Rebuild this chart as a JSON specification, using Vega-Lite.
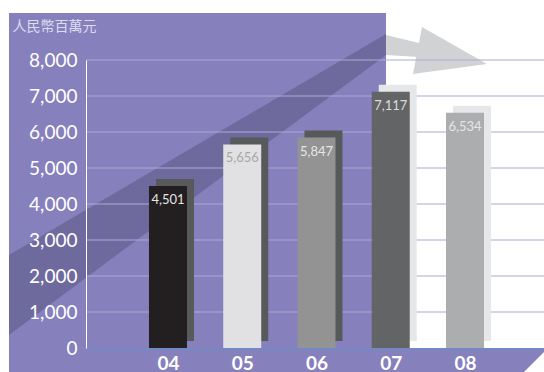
{
  "$schema": "https://vega.github.io/schema/vega-lite/v6.json",
  "width": 458,
  "height": 288,
  "autosize": {"type": "none"},
  "padding": {"left": 86, "top": 60, "right": 0, "bottom": 24},
  "background": "white",
  "config": {
    "view": {"stroke": null},
    "axisX": {"grid": false, "ticks": false, "labelPadding": 6, "labelFont": "Lato", "labelFontSize": 19, "labelFontWeight": "bold", "labelColor": "#ffffff", "domainColor": "#5f93cc", "domainWidth": 1},
    "axisY": {"grid": false, "ticks": false, "tickSize": 0, "labelPadding": 9, "labelFont": "Lato", "labelFontSize": 19, "labelColor": "#ffffff", "domainColor": "#ffffff", "domainWidth": 1, "titleAngle": 0, "titleX": -74, "titleY": -34, "titleAlign": "left", "titleBaseline": "middle", "titleFont": "Noto Sans CJK TC", "titleFontSize": 14, "titleFontWeight": "normal", "titleColor": "#dedbef"}
  },
  "datasets": {
    "sales": [
      {"yr": 4, "value": 4501},
      {"yr": 5, "value": 5656},
      {"yr": 6, "value": 5847},
      {"yr": 7, "value": 7117},
      {"yr": 8, "value": 6534}
    ],
    "panel": [{"x": 1.859, "x2": 6.936, "top": 9306, "bottom": -667}],
    "strip": [
      {"x": 6.936, "top": 0, "bottom": -667},
      {"x": 8.795, "top": 0, "bottom": -667},
      {"x": 9.064, "top": 0, "bottom": -111}
    ],
    "band": [
      {"x": 1.859, "top": 2583, "bottom": 361},
      {"x": 6.936, "top": 8722, "bottom": 8139}
    ],
    "shaft": [
      {"x": 6.936, "top": 8694, "bottom": 8139},
      {"x": 7.38, "top": 8472, "bottom": 8083}
    ],
    "head": [
      {"x": 7.3, "top": 7611, "bottom": 7611},
      {"x": 7.421, "top": 8917, "bottom": 7644},
      {"x": 8.296, "top": 7889, "bottom": 7889}
    ],
    "grid": [{"v": 1000}, {"v": 2000}, {"v": 3000}, {"v": 4000}, {"v": 5000}, {"v": 6000}, {"v": 7000}, {"v": 8000}]
  },
  "resolve": {"scale": {"color": "independent"}},
  "layer": [
    {
      "data": {"name": "panel"},
      "mark": {"type": "rect", "fill": "#8680bd"},
      "encoding": {
        "x": {"field": "x", "type": "quantitative", "scale": {"domain": [2.896, 9.064], "nice": false, "zero": false, "padding": 0}, "axis": {"values": [4, 5, 6, 7, 8], "labelExpr": "'0' + datum.value", "title": null, "zindex": 1}},
        "x2": {"field": "x2"},
        "y": {"field": "top", "type": "quantitative", "scale": {"domain": [0, 8000], "nice": false, "padding": 0}, "axis": {"values": [0, 1000, 2000, 3000, 4000, 5000, 6000, 7000, 8000], "labelExpr": "format(datum.value, ',')", "title": "人民幣百萬元", "zindex": 1}},
        "y2": {"field": "bottom"}
      }
    },
    {
      "data": {"name": "strip"},
      "mark": {"type": "area", "fill": "#8680bd", "orient": "vertical"},
      "encoding": {
        "x": {"field": "x", "type": "quantitative", "scale": {"domain": [2.896, 9.064], "nice": false, "zero": false, "padding": 0}, "axis": {"values": [4, 5, 6, 7, 8], "labelExpr": "'0' + datum.value", "title": null, "zindex": 1}},
        "y": {"field": "top", "type": "quantitative", "scale": {"domain": [0, 8000], "nice": false, "padding": 0}, "axis": {"values": [0, 1000, 2000, 3000, 4000, 5000, 6000, 7000, 8000], "labelExpr": "format(datum.value, ',')", "title": "人民幣百萬元", "zindex": 1}},
        "y2": {"field": "bottom"}
      }
    },
    {
      "data": {"name": "band"},
      "mark": {"type": "area", "fill": "#6f6a9e", "orient": "vertical"},
      "encoding": {
        "x": {"field": "x", "type": "quantitative", "scale": {"domain": [2.896, 9.064], "nice": false, "zero": false, "padding": 0}, "axis": {"values": [4, 5, 6, 7, 8], "labelExpr": "'0' + datum.value", "title": null, "zindex": 1}},
        "y": {"field": "top", "type": "quantitative", "scale": {"domain": [0, 8000], "nice": false, "padding": 0}, "axis": {"values": [0, 1000, 2000, 3000, 4000, 5000, 6000, 7000, 8000], "labelExpr": "format(datum.value, ',')", "title": "人民幣百萬元", "zindex": 1}},
        "y2": {"field": "bottom"}
      }
    },
    {
      "data": {"name": "shaft"},
      "mark": {"type": "area", "fill": "#d1d2d4", "orient": "vertical"},
      "encoding": {
        "x": {"field": "x", "type": "quantitative", "scale": {"domain": [2.896, 9.064], "nice": false, "zero": false, "padding": 0}, "axis": {"values": [4, 5, 6, 7, 8], "labelExpr": "'0' + datum.value", "title": null, "zindex": 1}},
        "y": {"field": "top", "type": "quantitative", "scale": {"domain": [0, 8000], "nice": false, "padding": 0}, "axis": {"values": [0, 1000, 2000, 3000, 4000, 5000, 6000, 7000, 8000], "labelExpr": "format(datum.value, ',')", "title": "人民幣百萬元", "zindex": 1}},
        "y2": {"field": "bottom"}
      }
    },
    {
      "data": {"name": "head"},
      "mark": {"type": "area", "fill": "#d1d2d4", "orient": "vertical"},
      "encoding": {
        "x": {"field": "x", "type": "quantitative", "scale": {"domain": [2.896, 9.064], "nice": false, "zero": false, "padding": 0}, "axis": {"values": [4, 5, 6, 7, 8], "labelExpr": "'0' + datum.value", "title": null, "zindex": 1}},
        "y": {"field": "top", "type": "quantitative", "scale": {"domain": [0, 8000], "nice": false, "padding": 0}, "axis": {"values": [0, 1000, 2000, 3000, 4000, 5000, 6000, 7000, 8000], "labelExpr": "format(datum.value, ',')", "title": "人民幣百萬元", "zindex": 1}},
        "y2": {"field": "bottom"}
      }
    },
    {
      "data": {"name": "grid"},
      "mark": {"type": "rule", "stroke": "#aea8d4", "strokeWidth": 1},
      "encoding": {
        "y": {"field": "v", "type": "quantitative", "scale": {"domain": [0, 8000], "nice": false, "padding": 0}, "axis": {"values": [0, 1000, 2000, 3000, 4000, 5000, 6000, 7000, 8000], "labelExpr": "format(datum.value, ',')", "title": "人民幣百萬元", "zindex": 1}}
      }
    },
    {
      "data": {"name": "sales"},
      "mark": {"type": "bar", "width": 38, "orient": "vertical", "xOffset": 7, "yOffset": -7, "y2Offset": -7},
      "encoding": {
        "x": {"field": "yr", "type": "quantitative", "scale": {"domain": [2.896, 9.064], "nice": false, "zero": false, "padding": 0}, "axis": {"values": [4, 5, 6, 7, 8], "labelExpr": "'0' + datum.value", "title": null, "zindex": 1}},
        "y": {"field": "value", "type": "quantitative", "scale": {"domain": [0, 8000], "nice": false, "padding": 0}, "axis": {"values": [0, 1000, 2000, 3000, 4000, 5000, 6000, 7000, 8000], "labelExpr": "format(datum.value, ',')", "title": "人民幣百萬元", "zindex": 1}},
        "color": {"field": "yr", "type": "nominal", "legend": null, "scale": {"domain": [4, 5, 6, 7, 8], "range": ["#58595b", "#58595b", "#58595b", "#e6e7e8", "#e6e7e8"]}}
      }
    },
    {
      "data": {"name": "sales"},
      "mark": {"type": "bar", "width": 38, "orient": "vertical"},
      "encoding": {
        "x": {"field": "yr", "type": "quantitative", "scale": {"domain": [2.896, 9.064], "nice": false, "zero": false, "padding": 0}, "axis": {"values": [4, 5, 6, 7, 8], "labelExpr": "'0' + datum.value", "title": null, "zindex": 1}},
        "y": {"field": "value", "type": "quantitative", "scale": {"domain": [0, 8000], "nice": false, "padding": 0}, "axis": {"values": [0, 1000, 2000, 3000, 4000, 5000, 6000, 7000, 8000], "labelExpr": "format(datum.value, ',')", "title": "人民幣百萬元", "zindex": 1}},
        "color": {"field": "yr", "type": "nominal", "legend": null, "scale": {"domain": [4, 5, 6, 7, 8], "range": ["#231f20", "#e1e1e3", "#939394", "#636465", "#acadae"]}}
      }
    },
    {
      "data": {"name": "sales"},
      "mark": {"type": "text", "dy": 14, "baseline": "middle", "align": "center", "font": "Lato", "fontSize": 13},
      "encoding": {
        "x": {"field": "yr", "type": "quantitative", "scale": {"domain": [2.896, 9.064], "nice": false, "zero": false, "padding": 0}, "axis": {"values": [4, 5, 6, 7, 8], "labelExpr": "'0' + datum.value", "title": null, "zindex": 1}},
        "y": {"field": "value", "type": "quantitative", "scale": {"domain": [0, 8000], "nice": false, "padding": 0}, "axis": {"values": [0, 1000, 2000, 3000, 4000, 5000, 6000, 7000, 8000], "labelExpr": "format(datum.value, ',')", "title": "人民幣百萬元", "zindex": 1}},
        "text": {"field": "value", "type": "quantitative", "format": ","},
        "color": {"field": "yr", "type": "nominal", "legend": null, "scale": {"domain": [4, 5, 6, 7, 8], "range": ["#e4e4e4", "#a7a7a9", "#e6e6e6", "#dcdcdc", "#e6e6e6"]}}
      }
    }
  ]
}
